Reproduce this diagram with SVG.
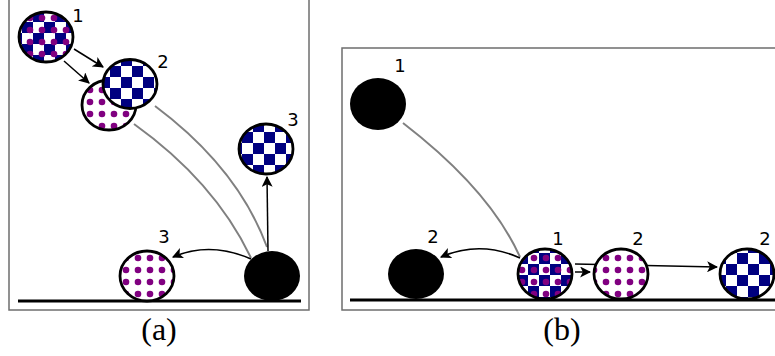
<svg xmlns="http://www.w3.org/2000/svg" width="775" height="356" viewBox="0 0 775 356">
<style>
.frame{fill:none;stroke:#6e6e6e;stroke-width:1.5}
.ground{stroke:#000;stroke-width:3}
.ball{stroke:#000;stroke-width:2.8}
.solid{fill:#000;stroke:none}
.traj{fill:none;stroke:#808080;stroke-width:2}
.arrow{fill:none;stroke:#000;stroke-width:1.5;marker-end:url(#ah)}
.lbl{font-family:"DejaVu Sans",sans-serif;font-size:18px;fill:#000;text-anchor:middle}
.cap{font-family:"Liberation Serif",serif;font-size:32px;fill:#000;text-anchor:middle}
</style>
<defs>
<marker id="ah" viewBox="0 0 10 10" refX="9" refY="5" markerWidth="11" markerHeight="11" markerUnits="userSpaceOnUse" orient="auto">
<path d="M0,0 L10,5 L0,10 L2.5,5 Z" fill="#000"/>
</marker>
<pattern id="checker" patternUnits="userSpaceOnUse" width="22" height="22">
<rect width="22" height="22" fill="#fff"/>
<rect width="11" height="11" fill="#000080"/>
<rect x="11" y="11" width="11" height="11" fill="#000080"/>
</pattern>
<pattern id="dots" patternUnits="userSpaceOnUse" width="12" height="12">
<circle cx="6" cy="6" r="3.3" fill="#800080"/>
</pattern>
</defs>
<rect class="frame" x="9" y="-5" width="300" height="315"/>
<rect class="frame" x="342" y="48" width="445" height="262"/>
<line class="ground" x1="18" y1="301" x2="301" y2="301"/>
<line class="ground" x1="350" y1="300" x2="775" y2="300"/>
<g id="connectors">
<path class="traj" d="M134,124 Q215,182 251,258"/>
<path class="traj" d="M155,106 Q238,168 267,247"/>
<path class="traj" d="M403,123 Q490,190 520,257"/>
<line class="arrow" x1="74" y1="49" x2="103" y2="67"/>
<line class="arrow" x1="64" y1="61" x2="89" y2="83"/>
<line class="arrow" x1="268" y1="251" x2="267" y2="177"/>
<path class="arrow" d="M251,259 Q210,241 173,257"/>
<path class="arrow" d="M520,258 Q480,240 441,257"/>
<line class="arrow" x1="575" y1="272" x2="590" y2="272"/>
<line class="arrow" x1="575" y1="264" x2="717" y2="267"/>
</g>
<g id="a-ball1">
<ellipse cx="46" cy="37" rx="27" ry="25" fill="url(#checker)"/>
<ellipse class="ball" cx="46" cy="37" rx="27" ry="25" fill="url(#dots)"/>
<text class="lbl" x="78" y="22">1</text>
</g>
<g id="a-dots2">
<ellipse cx="109" cy="105" rx="27" ry="25" fill="#fff"/>
<ellipse class="ball" cx="109" cy="105" rx="27" ry="25" fill="url(#dots)"/>
</g>
<g id="a-checker2">
<ellipse class="ball" cx="130" cy="84" rx="27" ry="24.5" fill="url(#checker)"/>
<text class="lbl" x="163" y="68">2</text>
</g>
<g id="a-checker3">
<ellipse class="ball" cx="266" cy="149" rx="27" ry="25" fill="url(#checker)"/>
<text class="lbl" x="293" y="126">3</text>
</g>
<g id="a-dots3">
<ellipse cx="147" cy="276" rx="27" ry="25" fill="#fff"/>
<ellipse class="ball" cx="147" cy="276" rx="27" ry="25" fill="url(#dots)"/>
<text class="lbl" x="164" y="243">3</text>
</g>
<g id="a-black">
<ellipse class="solid" cx="272" cy="276" rx="28" ry="25"/>
</g>
<g id="b-black1">
<ellipse class="solid" cx="378" cy="104" rx="28" ry="26"/>
<text class="lbl" x="400" y="72">1</text>
</g>
<g id="b-black2">
<ellipse class="solid" cx="416" cy="274" rx="28" ry="25"/>
<text class="lbl" x="433" y="243">2</text>
</g>
<g id="b-mixed1">
<ellipse cx="545" cy="274" rx="27" ry="25" fill="url(#checker)"/>
<ellipse class="ball" cx="545" cy="274" rx="27" ry="25" fill="url(#dots)"/>
<text class="lbl" x="558" y="245">1</text>
</g>
<g id="b-dots2">
<ellipse cx="621" cy="274" rx="27" ry="25" fill="#fff"/>
<ellipse class="ball" cx="621" cy="274" rx="27" ry="25" fill="url(#dots)"/>
<text class="lbl" x="638" y="245">2</text>
</g>
<g id="b-checker2">
<ellipse class="ball" cx="747" cy="274" rx="27" ry="25" fill="url(#checker)"/>
<text class="lbl" x="765" y="245">2</text>
</g>
<text class="cap" x="159" y="340">(a)</text>
<text class="cap" x="562" y="340">(b)</text>
</svg>
